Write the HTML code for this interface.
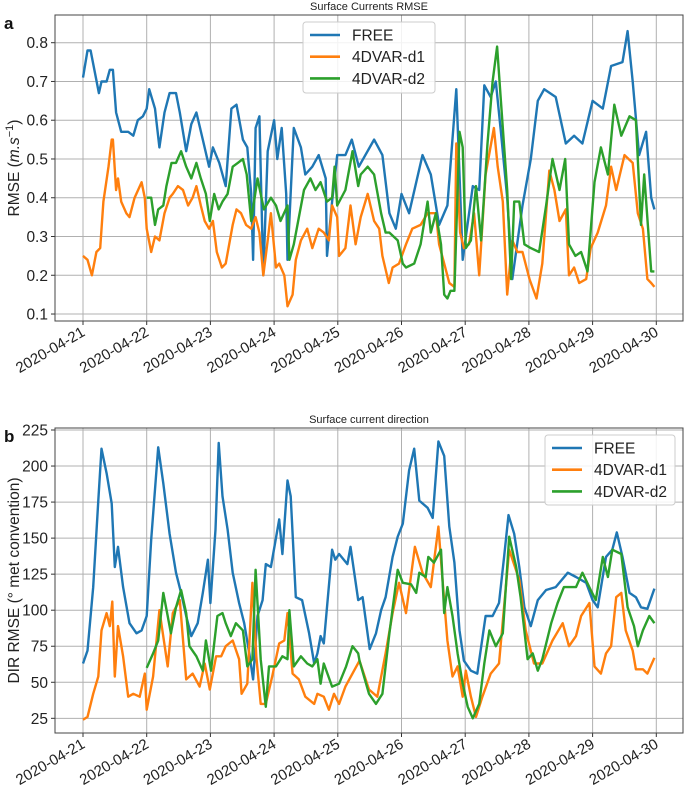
<!DOCTYPE html>
<html><head><meta charset="utf-8"><style>
body{margin:0;background:#fff;font-family:"Liberation Sans","DejaVu Sans",sans-serif}
svg{display:block}
</style></head><body>
<svg id="chart" width="685" height="795" xmlns="http://www.w3.org/2000/svg"></svg>
<script>
// x ticks
const xTickLabels=["2020-04-21","2020-04-22","2020-04-23","2020-04-24","2020-04-25","2020-04-26","2020-04-27","2020-04-28","2020-04-29","2020-04-30"];
const yTicksA=[0.1,0.2,0.3,0.4,0.5,0.6,0.7,0.8];
const yTicksB=[25,50,75,100,125,150,175,200,225];
const seriesNames=["FREE","4DVAR-d1","4DVAR-d2"];
// Panel a: times in days since 2020-04-21
const freeA_t=[0,.07,.12,.25,.29,.37,.42,.47,.52,.6,.71,.79,.86,.94,1.0,1.04,1.13,1.2,1.28,1.36,1.46,1.52,1.62,1.7,1.78,1.88,1.98,2.04,2.14,2.24,2.33,2.41,2.51,2.58,2.64,2.67,2.71,2.77,2.83,2.9,3.0,3.05,3.12,3.19,3.21,3.31,3.42,3.49,3.6,3.7,3.81,3.83,3.91,3.99,4.12,4.22,4.33,4.57,4.70,4.81,4.91,5.0,5.12,5.33,5.46,5.59,5.72,5.86,5.96,6.12,6.22,6.30,6.40,6.48,6.56,6.66,6.74,6.90,7.03,7.14,7.24,7.42,7.58,7.71,7.84,8.0,8.16,8.29,8.47,8.55,8.63,8.73,8.84,8.92,8.97];
const freeA_v=[.71,.78,.78,.67,.70,.70,.73,.73,.62,.57,.57,.56,.60,.61,.63,.68,.63,.53,.62,.67,.67,.62,.52,.59,.62,.55,.48,.53,.49,.43,.63,.64,.55,.53,.41,.24,.58,.61,.20,.52,.60,.50,.58,.41,.24,.58,.53,.46,.48,.51,.45,.25,.39,.51,.51,.55,.48,.55,.51,.36,.32,.41,.36,.51,.46,.33,.38,.68,.24,.43,.42,.69,.66,.70,.57,.40,.19,.38,.50,.65,.68,.66,.54,.56,.54,.65,.63,.74,.75,.83,.70,.51,.57,.40,.37];
const d1A_t=[0,.07,.14,.21,.27,.32,.40,.45,.47,.52,.55,.6,.68,.73,.81,.92,.97,1.0,1.07,1.13,1.2,1.28,1.36,1.41,1.49,1.57,1.65,1.72,1.78,1.85,1.91,1.98,2.04,2.1,2.18,2.24,2.35,2.41,2.48,2.56,2.64,2.71,2.77,2.83,2.9,2.95,3.03,3.08,3.16,3.21,3.29,3.34,3.42,3.52,3.6,3.7,3.78,3.86,3.91,3.99,4.02,4.12,4.20,4.28,4.36,4.47,4.57,4.65,4.70,4.80,4.86,4.96,5.07,5.17,5.30,5.41,5.54,5.59,5.67,5.75,5.83,5.86,5.92,5.98,6.06,6.14,6.22,6.32,6.45,6.51,6.59,6.66,6.74,6.82,6.90,7.01,7.12,7.21,7.32,7.40,7.48,7.58,7.63,7.71,7.79,7.90,7.97,8.08,8.21,8.29,8.37,8.50,8.63,8.71,8.79,8.86,8.92,8.97];
const d1A_v=[.25,.24,.20,.26,.27,.39,.48,.55,.55,.42,.45,.39,.36,.35,.40,.44,.40,.32,.26,.30,.29,.36,.40,.41,.43,.42,.38,.40,.43,.38,.34,.32,.34,.26,.22,.23,.33,.37,.36,.33,.32,.35,.31,.20,.29,.36,.22,.23,.20,.12,.15,.24,.29,.32,.27,.32,.31,.29,.38,.35,.25,.27,.38,.28,.35,.41,.34,.32,.25,.18,.22,.23,.28,.32,.33,.36,.36,.28,.23,.18,.17,.54,.31,.27,.28,.36,.20,.46,.58,.48,.39,.15,.29,.26,.26,.19,.14,.23,.47,.42,.34,.37,.20,.22,.18,.19,.27,.31,.38,.48,.42,.51,.49,.36,.32,.19,.18,.17];
const d2A_t=[1.0,1.07,1.13,1.18,1.26,1.31,1.39,1.46,1.54,1.62,1.70,1.78,1.85,1.93,1.99,2.06,2.13,2.19,2.27,2.35,2.43,2.51,2.57,2.64,2.74,2.84,2.95,3.03,3.10,3.21,3.24,3.31,3.39,3.47,3.57,3.65,3.73,3.83,3.91,3.95,3.99,4.12,4.23,4.32,4.36,4.47,4.57,4.68,4.75,4.81,4.94,5.02,5.07,5.20,5.30,5.41,5.46,5.54,5.62,5.67,5.72,5.77,5.83,5.91,5.96,6.01,6.09,6.17,6.25,6.35,6.43,6.50,6.56,6.66,6.72,6.77,6.85,6.93,7.03,7.16,7.27,7.37,7.48,7.57,7.63,7.73,7.82,7.92,8.03,8.13,8.24,8.34,8.45,8.58,8.68,8.76,8.81,8.92,8.97];
const d2A_v=[.40,.40,.33,.37,.38,.43,.49,.49,.52,.48,.45,.49,.45,.41,.34,.41,.37,.39,.41,.48,.49,.50,.46,.34,.45,.37,.40,.38,.34,.38,.24,.28,.35,.42,.45,.42,.44,.39,.40,.48,.38,.42,.52,.43,.46,.48,.46,.36,.31,.31,.29,.23,.22,.23,.28,.39,.31,.36,.28,.15,.14,.16,.16,.57,.53,.27,.29,.43,.29,.54,.70,.79,.65,.42,.19,.39,.39,.28,.27,.26,.38,.50,.42,.50,.28,.25,.26,.21,.44,.53,.46,.64,.56,.61,.60,.33,.46,.21,.21];
// Panel b
const freeB_t=[0,.07,.16,.24,.29,.37,.45,.50,.55,.63,.73,.84,.92,1.0,1.07,1.18,1.26,1.36,1.46,1.54,1.62,1.70,1.80,1.88,1.96,2.0,2.08,2.13,2.19,2.27,2.35,2.45,2.53,2.61,2.67,2.74,2.82,2.87,2.95,3.08,3.13,3.21,3.26,3.34,3.44,3.55,3.63,3.68,3.73,3.78,3.91,3.96,4.02,4.15,4.20,4.32,4.39,4.50,4.60,4.68,4.75,4.86,4.94,5.02,5.12,5.20,5.28,5.41,5.49,5.58,5.67,5.75,5.83,5.91,5.98,6.09,6.19,6.32,6.43,6.53,6.61,6.68,6.77,6.85,6.93,7.03,7.14,7.27,7.42,7.61,7.74,7.90,8.0,8.08,8.21,8.31,8.38,8.47,8.58,8.68,8.76,8.86,8.97];
const freeB_v=[63,72,116,176,212,195,174,130,144,116,91,84,86,96,149,213,188,153,126,112,96,82,91,112,135,105,156,216,179,156,126,105,91,70,52,96,107,132,130,163,139,190,179,109,107,84,63,70,82,77,142,135,139,132,144,107,109,73,84,100,109,137,151,160,197,212,176,171,164,217,207,158,133,86,65,58,56,96,96,105,137,166,153,130,102,89,107,114,116,126,123,119,107,102,137,142,154,137,112,109,102,101,115];
const d1B_t=[0,.07,.16,.24,.29,.37,.42,.46,.50,.55,.63,.71,.79,.89,.97,1.0,1.10,1.20,1.33,1.41,1.52,1.62,1.72,1.83,1.91,1.99,2.09,2.17,2.24,2.35,2.45,2.49,2.58,2.66,2.72,2.79,2.87,2.97,3.08,3.16,3.21,3.29,3.39,3.49,3.63,3.68,3.78,3.86,3.94,4.02,4.12,4.34,4.49,4.62,4.75,4.86,4.96,5.07,5.21,5.33,5.46,5.58,5.64,5.72,5.80,5.88,5.96,6.01,6.09,6.17,6.27,6.40,6.53,6.69,6.85,6.95,7.08,7.21,7.37,7.53,7.63,7.74,7.82,7.95,8.03,8.13,8.21,8.29,8.37,8.45,8.52,8.63,8.68,8.79,8.86,8.97];
const d1B_v=[24,26,42,54,86,98,89,106,54,89,68,40,42,40,56,31,54,100,61,98,107,52,56,47,63,45,68,68,75,79,66,42,49,119,68,35,35,54,77,79,98,56,52,40,35,42,40,31,42,35,47,65,45,40,70,98,119,98,144,126,116,158,123,79,54,61,40,58,40,26,40,56,63,142,121,86,63,63,79,91,75,82,96,105,61,56,70,75,109,112,86,72,59,59,56,67];
const d2B_t=[1.0,1.10,1.18,1.26,1.33,1.38,1.46,1.54,1.62,1.67,1.78,1.88,1.93,2.01,2.11,2.19,2.24,2.32,2.40,2.51,2.58,2.66,2.71,2.79,2.87,2.92,3.03,3.13,3.21,3.24,3.31,3.42,3.52,3.60,3.68,3.73,3.78,3.91,4.02,4.13,4.23,4.32,4.34,4.49,4.60,4.70,4.81,4.94,5.02,5.15,5.23,5.28,5.38,5.42,5.51,5.62,5.67,5.72,5.80,5.88,5.96,6.04,6.12,6.22,6.30,6.38,6.48,6.59,6.69,6.80,6.87,6.98,7.06,7.14,7.21,7.35,7.45,7.55,7.66,7.74,7.84,7.97,8.05,8.16,8.24,8.31,8.45,8.55,8.65,8.71,8.79,8.89,8.97];
const d2B_v=[60,70,79,112,96,84,102,114,98,75,68,58,79,58,96,98,91,82,91,86,61,66,128,66,33,61,61,68,66,100,61,68,63,61,66,49,63,47,49,61,75,70,65,42,35,42,84,128,119,118,112,126,123,137,133,142,98,116,96,70,49,33,25,35,63,86,75,84,151,130,109,66,70,58,66,91,105,116,116,116,126,114,107,137,123,142,139,102,89,75,86,96,91];

const NS="http://www.w3.org/2000/svg";
const svg=document.getElementById('chart');
function el(tag,attrs,parent){const e=document.createElementNS(NS,tag);for(const k in attrs)e.setAttribute(k,attrs[k]);(parent||svg).appendChild(e);return e;}
const colors=["#1f77b4","#ff7f0e","#2ca02c"];
const xScale=d=>83+d*63.7;
const L=55,R=683;
const yA=v=>42.7+(0.8-v)*387.6;
const yB=v=>430+(225-v)*1.4416;

function panel(id,top,bottom,yScale,yTicks,fmt,series,title,ylabel,letter,legendBox){
  const g=el('g',{});
  
  
  xTickLabels.forEach((lab,i)=>{
    const x=xScale(i);
    const gl=el('line',{x1:x,x2:x,y1:top,y2:bottom,stroke:'#b0b0b0','stroke-width':1},g);
    
    
    el('line',{x1:x,x2:x,y1:bottom,y2:bottom+4,stroke:'#333','stroke-width':1},g);
    const t=el('text',{x:0,y:0,'font-size':15,fill:'#222','text-anchor':'end',transform:`translate(${x+3},${bottom+14}) rotate(-30)`},g);
    t.textContent=lab;
    
    
  });
  yTicks.forEach(v=>{
    const y=yScale(v);
    const gl=el('line',{x1:L,x2:R,y1:y,y2:y,stroke:'#b0b0b0','stroke-width':1},g);
    
    
    el('line',{x1:L-4,x2:L,y1:y,y2:y,stroke:'#333','stroke-width':1},g);
    const t=el('text',{x:L-7,y:y+5.5,'font-size':15.5,fill:'#222','text-anchor':'end'},g);
    t.textContent=fmt(v);
    
    
  });
  series.forEach((s,i)=>{
    const d=s[0].map((t,k)=>(k?'L':'M')+xScale(t).toFixed(1)+','+yScale(s[1][k]).toFixed(1)).join('');
    const p=el('path',{d:d,fill:'none',stroke:colors[i],'stroke-width':2.4,'stroke-linejoin':'round'},g);
    
    
  });
  const fr=el('rect',{x:L,y:top,width:R-L,height:bottom-top,fill:'none',stroke:'#444','stroke-width':1},g);
  
  
  const tt=el('text',{x:369,y:top-5,'font-size':11,fill:'#222','text-anchor':'middle'},g);
  tt.textContent=title;
  
  
  const lt=el('text',{x:4,y:top+14,'font-size':17,'font-weight':'bold',fill:'#111'},g);
  lt.textContent=letter;
  
  
  const cy=(top+bottom)/2;
  const yl=el('text',{x:0,y:0,'font-size':15.5,fill:'#222','text-anchor':'middle',transform:`translate(19,${cy}) rotate(-90)`},g);
  yl.innerHTML=ylabel;
  
  
  const [bx,by,bw,bh]=legendBox;
  const lg=el('g',{},g);
  
  
  el('rect',{x:bx,y:by,width:bw,height:bh,rx:3,fill:'#fff','fill-opacity':0.85,stroke:'#ccc'},lg);
  seriesNames.forEach((n,i)=>{
    const ry=by+13+i*21.7;
    const e=el('g',{},lg);
    
    
    el('line',{x1:bx+7,x2:bx+37,y1:ry,y2:ry,stroke:colors[i],'stroke-width':2.6},e);
    const t=el('text',{x:bx+49,y:ry+5.5,'font-size':15.5,fill:'#222'},e);
    t.textContent=n;
  });
}
panel('panel-a',15,321,yA,yTicksA,v=>v.toFixed(1),[[freeA_t,freeA_v],[d1A_t,d1A_v],[d2A_t,d2A_v]],'Surface Currents RMSE','RMSE (<tspan font-style="italic">m.s</tspan><tspan dy="-6" font-size="11">−1</tspan><tspan dy="6">)</tspan>','a',[303,22,132,71]);
panel('panel-b',428,733,yB,yTicksB,v=>String(v),[[freeB_t,freeB_v],[d1B_t,d1B_v],[d2B_t,d2B_v]],'Surface current direction','DIR RMSE (° met convention)','b',[545,435,130,70]);
</script>
</body></html>
